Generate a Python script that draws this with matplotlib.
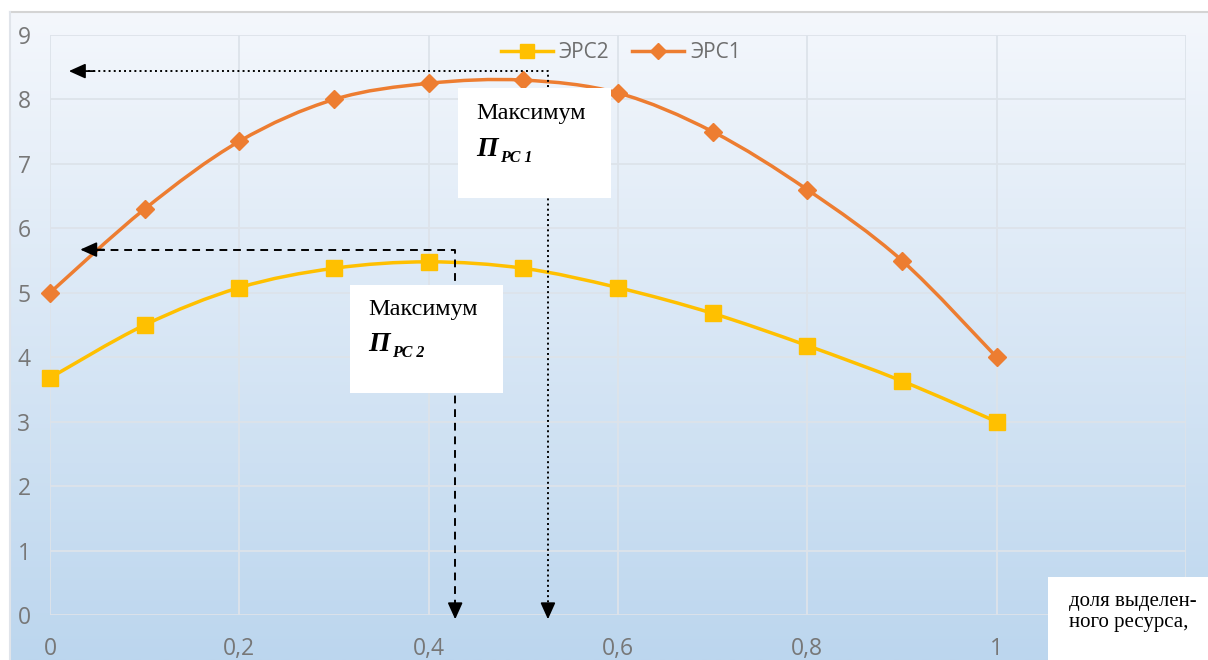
import numpy as np
import matplotlib
matplotlib.use("Agg")
import matplotlib.pyplot as plt
from matplotlib.path import Path
from matplotlib.patches import PathPatch, Rectangle
from matplotlib.lines import Line2D

# data
share = [0.0, 0.1, 0.2, 0.3, 0.4, 0.5, 0.6, 0.7, 0.8, 0.9, 1.0]
ers1 = [5.0, 6.3, 7.35, 8.0, 8.25, 8.3, 8.1, 7.5, 6.6, 5.5, 4.0]
ers2 = [3.68, 4.5, 5.08, 5.38, 5.48, 5.38, 5.08, 4.68, 4.18, 3.63, 3.0]
x_labels = ['0', '0,2', '0,4', '0,6', '0,8', '1']
y_ticks = list(range(10))

C_ORANGE = '#ED7D31'
C_GOLD = '#FFC000'
C_TICK = '#777777'

W, H = 1208, 660
fig = plt.figure(figsize=(W / 100, H / 100), dpi=100)

# background gradient (chart area)
bg = fig.add_axes([0, 0, 1, 1], zorder=-10)
bg.set_xlim(0, W)
bg.set_ylim(H, 0)
bg.axis('off')
top = np.array([0xf4, 0xf7, 0xfc]) / 255
bot = np.array([0xbc, 0xd6, 0xee]) / 255
t = np.linspace(0, 1, 256)[:, None]
grad = (top * (1 - t) + bot * t)[:, None, :]
bg.imshow(grad, extent=[10, W, H, 12], aspect='auto', interpolation='bilinear')
bg.plot([10, W], [12, 12], color='#d4d4d4', lw=1.5)
bg.plot([10, 10], [12, H], color='#e0e4ea', lw=1.5)

ax = fig.add_axes([50 / W, 1 - 615 / H, 1136 / W, 580 / H])
ax.set_facecolor('none')
ax.set_xlim(0, 1.2)
ax.set_ylim(0, 9)
for s in ax.spines.values():
    s.set_visible(False)
ax.set_xticks(np.arange(0, 1.21, 0.2))
ax.set_xticklabels(x_labels + [''])
ax.set_yticks(y_ticks)
ax.tick_params(length=0, labelsize=16.5, labelcolor=C_TICK)
ax.tick_params(axis='y', pad=14)
ax.tick_params(axis='x', pad=16)
for lab in ax.get_xticklabels() + ax.get_yticklabels():
    lab.set_fontfamily('Open Sans')
ax.grid(True, color='#dde3ea', lw=1.3)
ax.set_axisbelow(True)


def smooth_path(xs, ys):
    pts = np.column_stack([xs, ys])
    n = len(pts)
    verts = [pts[0]]
    codes = [Path.MOVETO]
    for i in range(n - 1):
        p0 = pts[i - 1] if i > 0 else pts[i]
        p1 = pts[i]
        p2 = pts[i + 1]
        p3 = pts[i + 2] if i + 2 < n else pts[i + 1]
        verts += [p1 + (p2 - p0) / 6, p2 - (p3 - p1) / 6, p2]
        codes += [Path.CURVE4] * 3
    return Path(verts, codes)


ax.add_patch(PathPatch(smooth_path(share, ers2), fill=False, edgecolor=C_GOLD, lw=2.5, zorder=3))
ax.plot(share, ers2, ls='none', marker='s', ms=12, color=C_GOLD, zorder=4, clip_on=False)
ax.add_patch(PathPatch(smooth_path(share, ers1), fill=False, edgecolor=C_ORANGE, lw=2.5, zorder=3))
ax.plot(share, ers1, ls='none', marker='D', ms=9.5, color=C_ORANGE, zorder=4, clip_on=False)

handles = [Line2D([], [], color=C_GOLD, lw=2.5, marker='s', ms=10),
           Line2D([], [], color=C_ORANGE, lw=2.5, marker='D', ms=8)]
leg = fig.legend(handles, ['ЭРС2', 'ЭРС1'], loc='center', bbox_to_anchor=(621 / W, 1 - 53 / H),
                 ncol=2, frameon=False, handlelength=2.5, columnspacing=1.1, handletextpad=0.3,
                 prop={'family': 'Open Sans', 'size': 15})
for txt in leg.get_texts():
    txt.set_color('#6e6e6e')

# guide arrows
hd = dict(arrowstyle='-|>,head_length=1.0,head_width=0.45', color='black', lw=1.3)
# dotted: maximum of ЭРС1
xm1, ym1 = 0.526, 8.44
ax.plot([0.04, xm1, xm1], [ym1, ym1, 0.15], color='black', ls=':', lw=1.4, zorder=5, clip_on=False)
ax.annotate('', xy=(0.017, ym1), xytext=(0.05, ym1), arrowprops=hd, zorder=5)
ax.annotate('', xy=(xm1, -0.11), xytext=(xm1, 0.2), arrowprops=hd, zorder=5, annotation_clip=False)
# dashed: maximum of ЭРС2
xm2, ym2 = 0.428, 5.67
ax.plot([0.05, xm2, xm2], [ym2, ym2, 0.15], color='black', ls=(0, (4, 3)), lw=1.4, zorder=5, clip_on=False)
ax.annotate('', xy=(0.029, ym2), xytext=(0.06, ym2), arrowprops=hd, zorder=5)
ax.annotate('', xy=(xm2, -0.11), xytext=(xm2, 0.2), arrowprops=hd, zorder=5, annotation_clip=False)

# annotation boxes
serif = 'Liberation Serif'
ax.add_patch(Rectangle((0.431, 6.475), 0.162, 1.705, facecolor='white', edgecolor='none', zorder=6))
ax.text(0.450, 7.78, 'Максимум', family=serif, fontsize=17.5, va='center', ha='left', zorder=7)
ax.text(0.450, 7.22, 'П', family=serif, fontsize=20, weight='bold', style='italic', va='center', ha='left', zorder=7)
ax.annotate('PC 1', xy=(0.450, 7.22), xytext=(17, -6), textcoords='offset points', family=serif,
            fontsize=11.5, weight='bold', style='italic', va='center', ha='left', zorder=7)

ax.add_patch(Rectangle((0.317, 3.45), 0.161, 1.67, facecolor='white', edgecolor='none', zorder=6))
ax.text(0.336, 4.74, 'Максимум', family=serif, fontsize=17.5, va='center', ha='left', zorder=7)
ax.text(0.336, 4.20, 'П', family=serif, fontsize=20, weight='bold', style='italic', va='center', ha='left', zorder=7)
ax.annotate('PC 2', xy=(0.336, 4.20), xytext=(17, -6), textcoords='offset points', family=serif,
            fontsize=11.5, weight='bold', style='italic', va='center', ha='left', zorder=7)

# axis caption box (bottom right)
fig.patches.append(Rectangle((1048 / W, 0), (W - 1048) / W, (H - 577) / H, transform=fig.transFigure,
                             facecolor='white', edgecolor='none', zorder=20))
fig.text(1069 / W, 1 - 606 / H, 'доля выделен-', family=serif, fontsize=15,
         va='baseline', ha='left', zorder=21)
fig.text(1069 / W, 1 - 627 / H, 'ного ресурса,', family=serif, fontsize=15,
         va='baseline', ha='left', zorder=21)

fig.savefig('out.png', dpi=100)
